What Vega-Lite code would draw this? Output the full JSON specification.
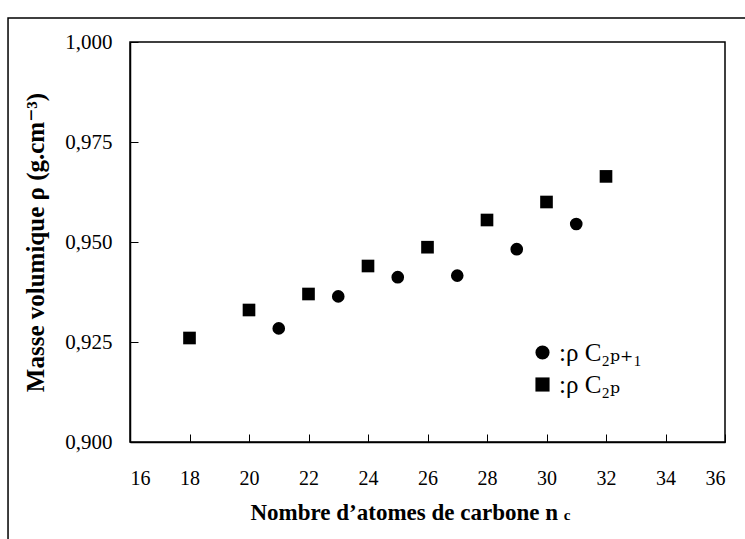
{
  "$schema": "https://vega.github.io/schema/vega-lite/v6.json",
  "width": 595,
  "height": 400,
  "autosize": {"type": "none"},
  "padding": {"left": 130, "top": 42, "right": 20, "bottom": 97},
  "background": "white",
  "config": {
    "view": {"stroke": "black", "strokeWidth": 1.5},
    "font": "Liberation Serif, Times New Roman, DejaVu Serif, serif",
    "axis": {"grid": false, "domainColor": "black", "domainWidth": 1.5, "tickColor": "black", "labelColor": "black", "titleColor": "black", "labelFont": "Liberation Serif, Times New Roman, DejaVu Serif, serif", "titleFont": "Liberation Serif, Times New Roman, DejaVu Serif, serif"},
    "legend": {"labelFont": "Liberation Serif, Times New Roman, DejaVu Serif, serif"}
  },
  "datasets": {
    "pts": [
      {"nc": 18, "rho": 0.926, "serie": "C2p"},
      {"nc": 20, "rho": 0.933, "serie": "C2p"},
      {"nc": 22, "rho": 0.937, "serie": "C2p"},
      {"nc": 24, "rho": 0.944, "serie": "C2p"},
      {"nc": 26, "rho": 0.9487, "serie": "C2p"},
      {"nc": 28, "rho": 0.9555, "serie": "C2p"},
      {"nc": 30, "rho": 0.960, "serie": "C2p"},
      {"nc": 32, "rho": 0.9664, "serie": "C2p"},
      {"nc": 21, "rho": 0.9284, "serie": "C2p+1"},
      {"nc": 23, "rho": 0.9364, "serie": "C2p+1"},
      {"nc": 25, "rho": 0.9412, "serie": "C2p+1"},
      {"nc": 27, "rho": 0.9416, "serie": "C2p+1"},
      {"nc": 29, "rho": 0.9482, "serie": "C2p+1"},
      {"nc": 31, "rho": 0.9545, "serie": "C2p+1"}
    ]
  },
  "layer": [
    {
      "data": {"values": [{}]},
      "mark": {"type": "rect", "fillOpacity": 0, "stroke": "black", "strokeWidth": 1.5, "clip": false},
      "encoding": {
        "x": {"datum": 11.9, "type": "quantitative"},
        "x2": {"datum": 37.2},
        "y": {"datum": 1.006, "type": "quantitative"},
        "y2": {"datum": 0.85}
      }
    },
    {
      "data": {"name": "pts"},
      "mark": {"type": "point", "filled": true, "color": "black", "opacity": 1, "size": 160},
      "encoding": {
        "x": {
          "field": "nc", "type": "quantitative",
          "scale": {"domain": [16, 36], "nice": false, "zero": false},
          "axis": {
            "values": [16, 18, 20, 22, 24, 26, 28, 30, 32, 34, 36],
            "tickSize": -8, "labelPadding": 34, "labelFontSize": 20,
            "title": "Nombre d’atomes de carbone n",
            "titleFontSize": 23, "titleFontWeight": "bold",
            "titleAnchor": "start", "titleAlign": "left", "titleX": 120, "titleY": 77, "titleBaseline": "alphabetic"
          }
        },
        "y": {
          "field": "rho", "type": "quantitative",
          "scale": {"domain": [0.9, 1.0], "nice": false, "zero": false},
          "axis": {
            "values": [0.9, 0.925, 0.95, 0.975, 1.0],
            "labelExpr": "replace(format(datum.value, '.3f'), '.', ',')",
            "tickSize": -8, "labelPadding": 26, "labelFontSize": 21,
            "title": "Masse volumique  ρ (g.cm⁻³)",
            "titleFontSize": 25, "titleFontWeight": "bold", "titlePadding": 16
          }
        },
        "shape": {
          "field": "serie", "type": "nominal",
          "scale": {"domain": ["C2p+1", "C2p"], "range": ["circle", "square"]},
          "legend": {
            "orient": "none", "legendX": 400, "legendY": 298, "title": null,
            "labelExpr": "datum.label == 'C2p' ? ':ρ C₂ₚ' : ':ρ C₂ₚ₊₁'",
            "labelFontSize": 25, "labelColor": "black",
            "symbolSize": 200, "symbolFillColor": "black", "symbolStrokeWidth": 0, "symbolType": "circle",
            "rowPadding": 6, "labelOffset": 4
          }
        }
      }
    },
    {
      "data": {"values": [{"t": "c"}]},
      "mark": {"type": "text", "font": "Liberation Serif, Times New Roman, DejaVu Serif, serif", "fontWeight": "bold", "fontSize": 15, "align": "left", "baseline": "alphabetic", "color": "black", "clip": false},
      "encoding": {
        "text": {"field": "t"},
        "x": {"datum": 30.58},
        "y": {"datum": 0.8805}
      }
    }
  ]
}
